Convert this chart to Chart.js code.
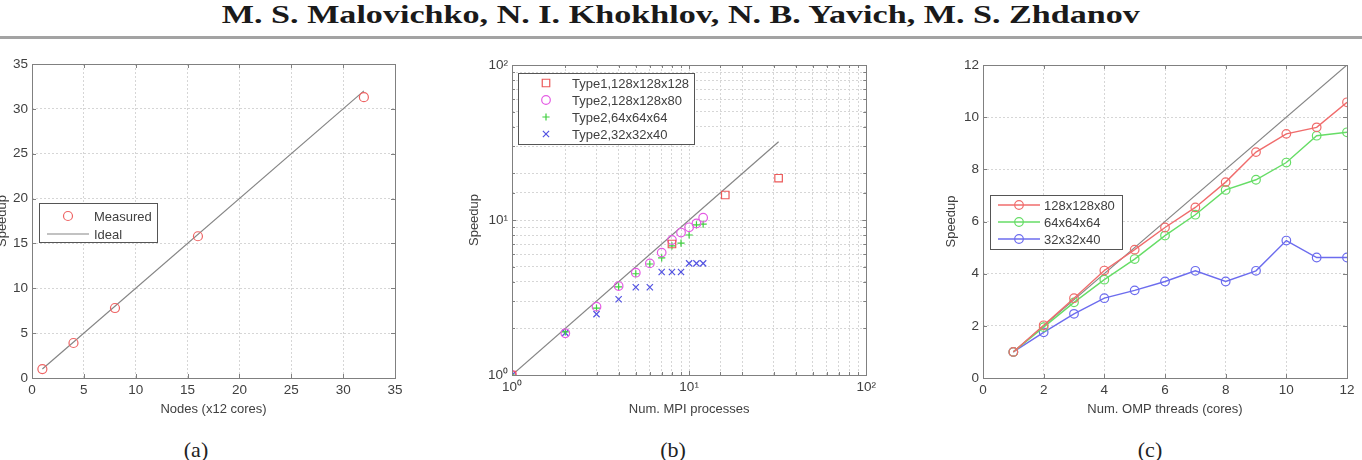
<!DOCTYPE html>
<html>
<head>
<meta charset="utf-8">
<script src="https://cdn.jsdelivr.net/npm/chart.js@4"></script>
<style>
  body { margin: 0; width: 1362px; height: 460px; background: #fff; position: relative; overflow: hidden; }
  #header { position: absolute; left: 0; top: 0; width: 1362px; text-align: center; line-height: 30px; }
  #hdr { display: inline-block; font: bold 26px "Liberation Serif", serif; color: #1a1a1a; white-space: nowrap; transform-origin: center; }
  #rule { position: absolute; left: 0; top: 36px; width: 1362px; height: 3px; background: #a3a3a3; }
  canvas { position: absolute; }
  .cap { position: absolute; top: 437px; font: 22px "Liberation Serif", serif; line-height: 26px; color: #222; transform: translateX(-50%); }
</style>
</head>
<body>
<div id="header"><span id="hdr">M. S. Malovichko, N. I. Khokhlov, N. B. Yavich, M. S. Zhdanov</span></div>
<div id="rule"></div>
<canvas id="chartA" width="425" height="380" style="left:-5px;top:50px"></canvas>
<canvas id="chartB" width="420" height="380" style="left:460px;top:50px"></canvas>
<canvas id="chartC" width="442" height="380" style="left:920px;top:50px"></canvas>
<div class="cap" style="left:196px">(a)</div>
<div class="cap" style="left:673px">(b)</div>
<div class="cap" style="left:1150px">(c)</div>
<script>
// (a) speedup vs number of nodes
const nodes = [1, 4, 8, 16, 32];
const nodesSpeedup = [1.0, 3.9, 7.8, 15.8, 31.3];
const nodesIdeal = [1, 32];

// (b) speedup vs number of MPI processes
const procsType1 = [1, 8, 16, 32];
const speedType1 = [1.0, 7.0, 14.5, 18.6];
const procsType2 = [1, 2, 3, 4, 5, 6, 7, 8, 9, 10, 11, 12];
const mpi128 = [1.0, 1.86, 2.76, 3.75, 4.57, 5.25, 6.16, 7.43, 8.3, 8.97, 9.5, 10.35];
const mpi64 = [1.0, 1.9, 2.7, 3.7, 4.5, 5.2, 5.7, 6.8, 7.1, 8.0, 9.3, 9.4];
const mpi32 = [1.0, 1.87, 2.47, 3.08, 3.68, 3.68, 4.62, 4.62, 4.62, 5.25, 5.25, 5.25];
const mpiIdeal = [1, 32];

// (c) speedup vs number of OMP threads
const threads = [1, 2, 3, 4, 5, 6, 7, 8, 9, 10, 11, 12];
const omp128 = [1.0, 2.02, 3.06, 4.12, 4.92, 5.77, 6.54, 7.51, 8.66, 9.36, 9.61, 10.57];
const omp64 = [1.0, 1.95, 2.9, 3.77, 4.56, 5.46, 6.26, 7.21, 7.6, 8.26, 9.29, 9.42];
const omp32 = [1.0, 1.75, 2.46, 3.06, 3.36, 3.7, 4.11, 3.7, 4.11, 5.27, 4.62, 4.62];
const ompIdeal = [1, 12];

const FONT = 'Liberation Sans, Arial, sans-serif';
const TXT = '#404040';
const SUP = ['\u2070', '\u00b9', '\u00b2', '\u00b3'];

// stretch header to the width of the original
const hdr = document.getElementById('hdr');
hdr.style.transform = 'scaleX(' + (918 / hdr.getBoundingClientRect().width) + ')';

function pts(xs, ys) {
  return xs.map((x, i) => ({ x: x, y: ys[i] }));
}

// box around the plot area plus small inward ticks, matlab style
const framePlugin = {
  id: 'frame',
  afterDatasetsDraw(chart) {
    const { ctx, chartArea: a, scales } = chart;
    ctx.save();
    ctx.strokeStyle = '#808080';
    ctx.lineWidth = 1;
    ctx.beginPath();
    scales.x.ticks.forEach(t => {
      const p = Math.round(scales.x.getPixelForValue(t.value)) + 0.5;
      const len = scales.x.type === 'logarithmic' && !Number.isInteger(Math.log10(t.value)) ? 3 : 4;
      ctx.moveTo(p, a.bottom); ctx.lineTo(p, a.bottom - len);
      ctx.moveTo(p, a.top); ctx.lineTo(p, a.top + len);
    });
    scales.y.ticks.forEach(t => {
      const p = Math.round(scales.y.getPixelForValue(t.value)) + 0.5;
      const len = scales.y.type === 'logarithmic' && !Number.isInteger(Math.log10(t.value)) ? 3 : 4;
      ctx.moveTo(a.left, p); ctx.lineTo(a.left + len, p);
      ctx.moveTo(a.right, p); ctx.lineTo(a.right - len, p);
    });
    ctx.stroke();
    ctx.strokeRect(Math.round(a.left) + 0.5, Math.round(a.top) + 0.5, Math.round(a.width), Math.round(a.height));
    ctx.restore();
  }
};

// legend drawn inside the plot in a bordered box
const boxLegend = {
  id: 'boxLegend',
  afterDraw(chart, args, o) {
    const { ctx } = chart;
    const items = chart.data.datasets.filter(d => d.inLegend !== false);
    ctx.save();
    ctx.fillStyle = '#fff';
    ctx.fillRect(o.x, o.y, o.w, o.h);
    ctx.strokeStyle = '#555';
    ctx.lineWidth = 1;
    ctx.strokeRect(o.x + 0.5, o.y + 0.5, o.w, o.h);
    items.forEach((ds, i) => {
      const cy = o.y + o.first + i * o.step;
      if (ds.showLine) {
        ctx.strokeStyle = ds.borderColor;
        ctx.lineWidth = ds.borderWidth;
        ctx.beginPath();
        ctx.moveTo(o.lineX0, cy);
        ctx.lineTo(o.lineX1, cy);
        ctx.stroke();
      }
      if (ds.pointRadius > 0) {
        ctx.strokeStyle = ds.pointBorderColor;
        ctx.fillStyle = 'rgba(0,0,0,0)';
        ctx.lineWidth = ds.pointBorderWidth;
        Chart.helpers.drawPoint(ctx, { pointStyle: ds.pointStyle, radius: ds.pointRadius, borderWidth: ds.pointBorderWidth, rotation: 0 }, o.markX, cy);
      }
      ctx.fillStyle = TXT;
      ctx.font = '13px ' + FONT;
      ctx.textBaseline = 'middle';
      ctx.fillText(ds.label, o.textX, cy + 1);
    });
    ctx.restore();
  }
};

function logLabel(v) {
  const l = Math.log10(v);
  return Number.isInteger(l) ? '10' + SUP[l] : '';
}

function axis(type, min, max, step, width, title, titlePad, isY) {
  const ax = {
    type: type,
    min: min,
    max: max,
    border: { display: false, dash: [2, 2] },
    grid: { color: '#d6d6d6', lineWidth: 1, drawTicks: false },
    ticks: {
      color: TXT,
      font: { family: FONT, size: 13.5 },
      padding: 4,
      autoSkip: false,
      maxRotation: 0
    },
    title: {
      display: true,
      text: title,
      color: TXT,
      font: { family: FONT, size: 13 },
      padding: titlePad
    },
    afterFit(scale) {
      if (isY) scale.width = width; else scale.height = width;
    }
  };
  if (type === 'logarithmic') {
    ax.ticks.callback = logLabel;
  } else {
    ax.ticks.stepSize = step;
  }
  return ax;
}

function baseOptions(pad, xAxis, yAxis, legend) {
  return {
    responsive: false,
    animation: false,
    layout: { padding: pad },
    scales: { x: xAxis, y: yAxis },
    plugins: {
      legend: { display: false },
      tooltip: { enabled: false },
      boxLegend: legend
    }
  };
}

function marker(label, xs, ys, color, style, radius) {
  return {
    label: label,
    data: pts(xs, ys),
    showLine: false,
    pointStyle: style,
    pointRadius: radius,
    pointBorderColor: color,
    pointBackgroundColor: 'rgba(0,0,0,0)',
    pointBorderWidth: 1.2,
    borderColor: color
  };
}

function series(label, xs, ys, color) {
  return {
    label: label,
    data: pts(xs, ys),
    showLine: true,
    borderColor: color,
    borderWidth: 1.4,
    pointStyle: 'circle',
    pointRadius: 4.3,
    pointBorderColor: color,
    pointBackgroundColor: 'rgba(0,0,0,0)',
    pointBorderWidth: 1.2
  };
}

function ideal(label, xs, inLegend) {
  return {
    label: label,
    data: pts(xs, xs),
    showLine: true,
    borderColor: '#858585',
    borderWidth: 1.2,
    pointRadius: 0,
    inLegend: inLegend
  };
}

new Chart(document.getElementById('chartA'), {
  type: 'scatter',
  data: {
    datasets: [
      marker('Measured', nodes, nodesSpeedup, '#ee6464', 'circle', 4.5),
      ideal('Ideal', nodesIdeal, true)
    ]
  },
  options: baseOptions(
    { top: 14, right: 25, left: 0, bottom: 0 },
    axis('linear', 0, 35, 5, 52, 'Nodes (x12 cores)', { top: 0, bottom: 13 }, false),
    axis('linear', 0, 35, 5, 37, 'Speedup', { top: 0, bottom: 0 }, true),
    { x: 44, y: 153, w: 118, h: 39, first: 13, step: 18, lineX0: 52, lineX1: 94, markX: 73, textX: 99 }
  ),
  plugins: [framePlugin, boxLegend]
});

new Chart(document.getElementById('chartB'), {
  type: 'scatter',
  data: {
    datasets: [
      marker('Type1,128x128x128', procsType1, speedType1, '#ec5a5a', 'rect', 5.3),
      marker('Type2,128x128x80', procsType2, mpi128, '#e45ce4', 'circle', 4.3),
      marker('Type2,64x64x64', procsType2, mpi64, '#3fcf3f', 'cross', 3.6),
      marker('Type2,32x32x40', procsType2, mpi32, '#5454e2', 'crossRot', 4.4),
      ideal('Ideal', mpiIdeal, false)
    ]
  },
  options: baseOptions(
    { top: 15, right: 13, left: 0, bottom: 0 },
    axis('logarithmic', 1, 100, null, 55, 'Num. MPI processes', { top: 0, bottom: 13 }, false),
    axis('logarithmic', 1, 100, null, 52, 'Speedup', { top: 7, bottom: 0 }, true),
    { x: 58, y: 23, w: 176, h: 71, first: 10, step: 17, lineX0: 0, lineX1: 0, markX: 86, textX: 112 }
  ),
  plugins: [framePlugin, boxLegend]
});

new Chart(document.getElementById('chartC'), {
  type: 'scatter',
  data: {
    datasets: [
      series('128x128x80', threads, omp128, '#f06c6c'),
      series('64x64x64', threads, omp64, '#66dd66'),
      series('32x32x40', threads, omp32, '#6c6cee'),
      ideal('Ideal', ompIdeal, false)
    ]
  },
  options: baseOptions(
    { top: 15, right: 15, left: 0, bottom: 0 },
    axis('linear', 0, 12, 2, 52, 'Num. OMP threads (cores)', { top: 0, bottom: 13 }, false),
    axis('linear', 0, 12, 2, 63, 'Speedup', { top: 24, bottom: 0 }, true),
    { x: 70, y: 145, w: 132, h: 54, first: 10, step: 17, lineX0: 78, lineX1: 120, markX: 99, textX: 124 }
  ),
  plugins: [framePlugin, boxLegend]
});
</script>
</body>
</html>
